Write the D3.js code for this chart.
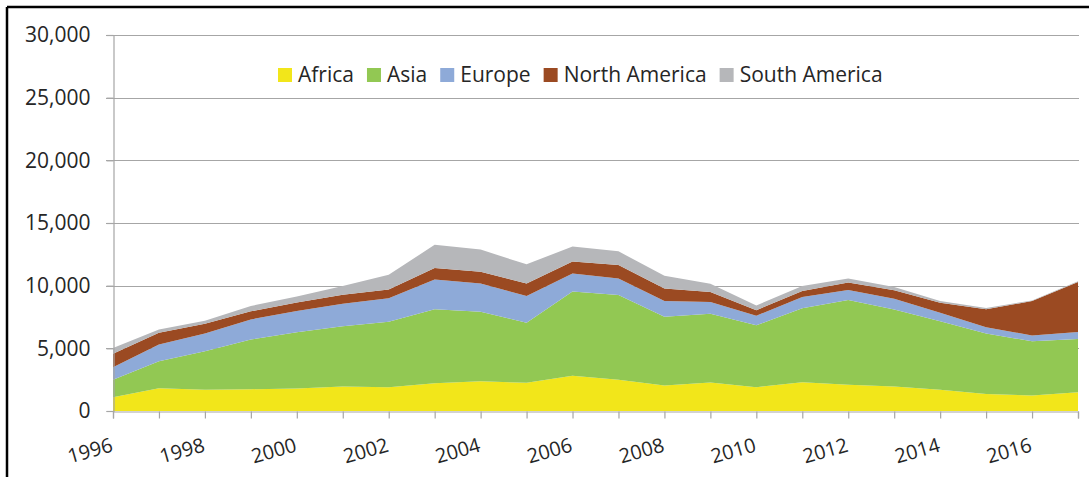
<!DOCTYPE html>
<html>
<head>
<meta charset="utf-8">
<script src="https://cdn.jsdelivr.net/npm/d3@7"></script>
<style>
  body { margin: 0; background: #fff; }
  svg text { font-family: "Open Sans", "Noto Sans", sans-serif; fill: #262626; }
</style>
</head>
<body>
<svg id="chart" width="1089" height="477"></svg>
<script>
// data
var years = d3.range(1996, 2018);
var regions = ["Africa", "Asia", "Europe", "North America", "South America"];
var colors = ["#f2e61a", "#92c853", "#8eaad8", "#9b4a22", "#b6b7ba"];

var africa  = [1100,1820,1690,1740,1790,1950,1900,2220,2380,2250,2810,2490,2030,2270,1900,2300,2090,1950,1690,1360,1230,1500];
var asia    = [1400,2140,3080,3960,4500,4820,5220,5900,5540,4790,6720,6770,5490,5480,4940,5890,6770,6150,5480,4820,4330,4250];
var europe  = [1000,1340,1420,1610,1690,1790,1870,2380,2250,2140,1440,1310,1260, 940, 760, 910, 800, 860, 670, 510, 460, 560];
var northAm = [1070, 940, 770, 640, 670, 720, 700, 910, 940, 990, 960,1070, 990, 800, 440, 480, 590, 670, 800,1420,2750,3990];
var southAm = [ 450, 270, 240, 430, 480, 700,1180,1850,1770,1530,1200,1100,1020, 670, 380, 400, 320, 270, 130, 110,  55,  50];

var yTicks = [0, 5000, 10000, 15000, 20000, 25000, 30000];
var xLabels = d3.range(1996, 2017, 2);

var series = [africa, asia, europe, northAm, southAm];
var table = years.map(function(yr, i) {
  var row = {year: yr};
  regions.forEach(function(r, k) { row[r] = series[k][i]; });
  return row;
});

var svg = d3.select("#chart");

// outer frame (only top and left edges visible)
svg.append("line").attr("x1", 7).attr("x2", 1089).attr("y1", 7).attr("y2", 7)
  .attr("stroke", "#000").attr("stroke-width", 2.5);
svg.append("line").attr("x1", 7).attr("x2", 7).attr("y1", 7).attr("y2", 477)
  .attr("stroke", "#000").attr("stroke-width", 2.5);

var plotL = 113, plotR = 1078, plotT = 35, plotB = 411;

var x = d3.scaleLinear().domain([1996, 2017]).range([plotL, plotR]);
var y = d3.scaleLinear().domain([0, 30000]).range([plotB, plotT]);

// gridlines
svg.append("g").selectAll("line")
  .data(yTicks.filter(function(d) { return d > 0; }))
  .enter().append("line")
    .attr("x1", plotL - 7).attr("x2", plotR + 1)
    .attr("y1", function(d) { return Math.round(y(d)) + 0.5; })
    .attr("y2", function(d) { return Math.round(y(d)) + 0.5; })
    .attr("stroke", "#a6a6a6").attr("stroke-width", 1.2);

// stacked areas
var stack = d3.stack().keys(regions);
var layers = stack(table);
var area = d3.area()
  .x(function(d) { return x(d.data.year); })
  .y0(function(d) { return y(d[0]); })
  .y1(function(d) { return y(d[1]); });

svg.append("g").selectAll("path")
  .data(layers)
  .enter().append("path")
    .attr("d", area)
    .attr("fill", function(d, i) { return colors[i]; });

// y axis
var axisY = svg.append("g")
  .attr("transform", "translate(" + (plotL + 0.5) + ",0)")
  .call(d3.axisLeft(y).tickValues(yTicks).tickSize(7).tickPadding(16)
    .tickFormat(d3.format(",")));
axisY.select(".domain").attr("stroke", "#a6a6a6").attr("stroke-width", 1.2);
axisY.selectAll(".tick line").attr("stroke", "#a6a6a6").attr("stroke-width", 1.2);
axisY.selectAll("text").style("font-size", "21px").attr("fill", "#262626");

// x axis
var axisX = svg.append("g")
  .attr("transform", "translate(0," + (plotB + 0.5) + ")")
  .call(d3.axisBottom(x).tickValues(years).tickSize(7).tickFormat(""));
axisX.select(".domain").attr("stroke", "#a6a6a6").attr("stroke-width", 1.2);
axisX.selectAll(".tick line").attr("stroke", "#a6a6a6").attr("stroke-width", 1.2);

svg.append("g").selectAll("text")
  .data(xLabels)
  .enter().append("text")
    .attr("transform", function(d) { return "translate(" + (x(d) + 1) + "," + (plotB + 40) + ")rotate(-16)"; })
    .attr("text-anchor", "end")
    .style("font-size", "20px")
    .text(function(d) { return d; });

// legend
var legend = svg.append("g");
var lx = 278;
regions.forEach(function(r, i) {
  legend.append("rect").attr("x", lx).attr("y", 68).attr("width", 14).attr("height", 14)
    .attr("fill", colors[i]);
  var t = legend.append("text").attr("x", lx + 20).attr("y", 82)
    .style("font-size", "21px").text(r);
  lx += 20 + t.node().getComputedTextLength() + 13;
});
</script>
</body>
</html>
